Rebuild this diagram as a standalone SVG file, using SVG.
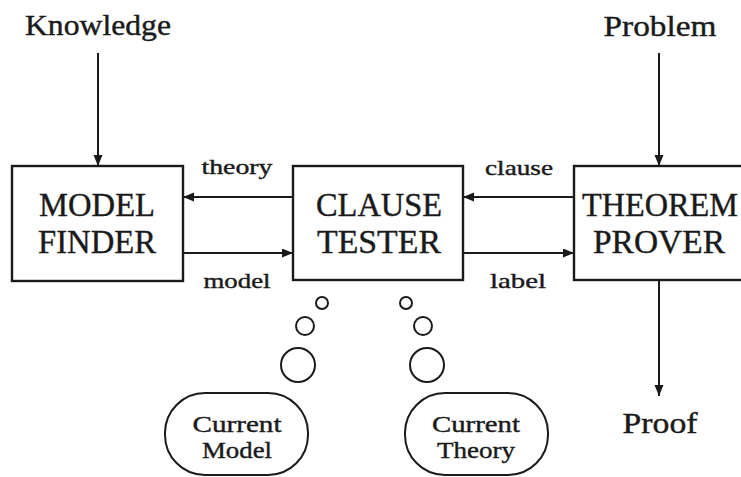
<svg xmlns="http://www.w3.org/2000/svg" width="741" height="477" viewBox="0 0 741 477">
  <style>
    .box { fill: #fff; stroke: #1a1a1a; stroke-width: 2.4; }
    .pill { fill: #fff; stroke: #1a1a1a; stroke-width: 2; }
    .bubble { fill: none; stroke: #1a1a1a; stroke-width: 2; }
    .edge { fill: none; stroke: #1a1a1a; stroke-width: 2; marker-end: url(#head); }
    text { font-family: "Liberation Serif", "DejaVu Serif", serif; fill: #1a1a1a; stroke: #1a1a1a; stroke-width: 0.4; text-anchor: middle; }
    .big { font-size: 33px; }
    .io { font-size: 29px; }
    .lbl { font-size: 21px; }
    .small { font-size: 24px; }
  </style>
  <defs>
    <marker id="head" markerUnits="userSpaceOnUse" markerWidth="12" markerHeight="10" refX="11" refY="4.5" orient="auto">
      <path d="M0,0 L11,4.5 L0,9 z" fill="#1a1a1a"/>
    </marker>
  </defs>
  <rect width="741" height="477" fill="#fff"/>

  <!-- inputs and outputs -->
  <g id="knowledge">
    <text class="io" x="98" y="35" textLength="146" lengthAdjust="spacingAndGlyphs">Knowledge</text>
  </g>
  <g id="problem">
    <text class="io" x="660" y="36" textLength="113" lengthAdjust="spacingAndGlyphs">Problem</text>
  </g>
  <g id="proof">
    <text class="io" x="660" y="433" textLength="75" lengthAdjust="spacingAndGlyphs">Proof</text>
  </g>

  <!-- processing units -->
  <g id="model-finder">
    <rect class="box" x="12" y="166" width="171" height="115"/>
    <text class="big" x="97" y="216" textLength="116" lengthAdjust="spacingAndGlyphs">MODEL</text>
    <text class="big" x="97" y="253" textLength="118" lengthAdjust="spacingAndGlyphs">FINDER</text>
  </g>
  <g id="clause-tester">
    <rect class="box" x="293" y="166" width="170" height="114"/>
    <text class="big" x="379" y="216" textLength="126" lengthAdjust="spacingAndGlyphs">CLAUSE</text>
    <text class="big" x="379" y="253" textLength="124" lengthAdjust="spacingAndGlyphs">TESTER</text>
  </g>
  <g id="theorem-prover">
    <rect class="box" x="574" y="166" width="185" height="114"/>
    <text class="big" x="660" y="216" textLength="156" lengthAdjust="spacingAndGlyphs">THEOREM</text>
    <text class="big" x="659" y="253" textLength="132" lengthAdjust="spacingAndGlyphs">PROVER</text>
  </g>

  <!-- stores -->
  <g id="current-model">
    <rect class="pill" x="165" y="393" width="143" height="82" rx="40" ry="40"/>
    <text class="small" x="237" y="432" textLength="89" lengthAdjust="spacingAndGlyphs">Current</text>
    <text class="small" x="237" y="458" textLength="70" lengthAdjust="spacingAndGlyphs">Model</text>
  </g>
  <g id="current-theory">
    <rect class="pill" x="405" y="393" width="143" height="82" rx="40" ry="40"/>
    <text class="small" x="476" y="432" textLength="88" lengthAdjust="spacingAndGlyphs">Current</text>
    <text class="small" x="476" y="458" textLength="78" lengthAdjust="spacingAndGlyphs">Theory</text>
  </g>

  <!-- thought bubbles linking the tester to its stores -->
  <g id="bubbles">
    <circle class="bubble" cx="322" cy="303" r="6"/>
    <circle class="bubble" cx="305" cy="326" r="9"/>
    <circle class="bubble" cx="298" cy="365" r="17"/>
    <circle class="bubble" cx="406" cy="303" r="6"/>
    <circle class="bubble" cx="423" cy="326" r="9"/>
    <circle class="bubble" cx="427" cy="365" r="17"/>
  </g>

  <!-- connectors -->
  <g id="connectors">
    <line class="edge" x1="98" y1="53" x2="98" y2="166"/>
    <line class="edge" x1="659" y1="53" x2="659" y2="166"/>
    <line class="edge" x1="659" y1="281" x2="659" y2="396"/>
    <line class="edge" x1="293" y1="197" x2="183" y2="197"/>
    <line class="edge" x1="183" y1="253" x2="293" y2="253"/>
    <line class="edge" x1="574" y1="197" x2="463" y2="197"/>
    <line class="edge" x1="463" y1="253" x2="574" y2="253"/>
    <text class="lbl" x="237" y="174" textLength="71" lengthAdjust="spacingAndGlyphs">theory</text>
    <text class="lbl" x="237" y="288" textLength="67" lengthAdjust="spacingAndGlyphs">model</text>
    <text class="lbl" x="519" y="175" textLength="68" lengthAdjust="spacingAndGlyphs">clause</text>
    <text class="lbl" x="518" y="288" textLength="56" lengthAdjust="spacingAndGlyphs">label</text>
  </g>
</svg>
